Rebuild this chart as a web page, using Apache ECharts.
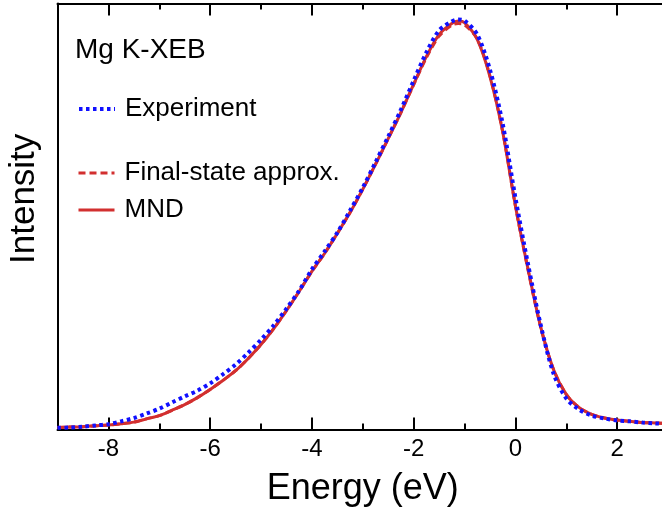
<!DOCTYPE html>
<html>
<head>
<meta charset="utf-8">
<script src="https://cdn.jsdelivr.net/npm/echarts@6/dist/echarts.min.js"></script>
<style>html,body{margin:0;padding:0;background:#fff}#c{width:662px;height:510px}</style>
</head>
<body>
<div id="c"></div>
<script>
const energies = [-9,-8.75,-8.5,-8.25,-8,-7.75,-7.5,-7.25,-7,-6.75,-6.5,-6.25,-6,-5.75,-5.5,-5.25,-5,-4.75,-4.5,-4.25,-4,-3.75,-3.5,-3.25,-3,-2.75,-2.5,-2.25,-2,-1.75,-1.5,-1.25,-1.125,-1,-0.75,-0.5,-0.25,0,0.25,0.5,0.75,1,1.25,1.5,1.75,2,2.25,2.5,2.75,3];
const experiment = [0.4,0.5,0.7,1.0,1.3,2.0,2.8,3.9,5.1,6.6,8.1,9.5,11.3,13.5,15.9,18.8,22.0,25.5,29.6,34.0,39.2,43.6,48.2,53.6,59.2,65.4,71.7,78.3,85.4,92.3,97.7,99.9,100.4,100.1,96.7,88.1,74.9,56.8,40.4,25.5,13.7,7.6,4.9,3.4,2.7,2.2,2.0,1.7,1.5,1.3];
const finalState = [0.5,0.6,0.7,0.9,1.1,1.4,1.8,2.6,3.4,4.7,6.1,7.8,9.8,12.0,14.4,17.4,20.8,24.7,29.1,33.8,38.7,43.1,48.0,53.1,58.8,64.9,71.2,77.6,84.4,91.0,96.3,99.0,99.4,99.1,95.6,86.6,73.0,54.8,39.0,24.9,14.7,8.6,5.4,3.7,2.8,2.3,2.0,1.7,1.6,1.5];
const mnd = [0.5,0.6,0.7,0.9,1.1,1.4,1.8,2.6,3.4,4.7,6.1,7.8,9.8,12.0,14.4,17.4,20.8,24.7,29.1,33.8,38.7,43.1,48.0,53.1,58.8,64.9,71.2,77.6,84.5,91.3,96.7,99.4,100.0,99.6,95.5,86.4,72.9,54.8,39.2,25.0,14.7,8.6,5.4,3.7,2.8,2.3,2.0,1.7,1.6,1.5];
const majorTicks = [-8,-6,-4,-2,0,2];
const minorTicks = [-7,-5,-3,-1,1];
const seriesNames = ['Experiment','Final-state approx.','MND'];

const FONT = 'Liberation Sans, Arial, Helvetica, sans-serif';
const pairs = arr => energies.map((e,i)=>[e, arr[i]]);
const chart = echarts.init(document.getElementById('c'), null, {renderer:'canvas'});
const xBase = {type:'value', min:-9, max:3, gridIndex:0, splitLine:{show:false}};
const axisLineStyle = {color:'#000', width:2};
const legendCommon = {orient:'vertical', itemWidth:36, itemHeight:14, selectedMode:false, padding:0,
  itemStyle:{opacity:0},
  textStyle:{color:'#000', fontSize:26, fontFamily:FONT, padding:[0,0,0,5]}};
chart.setOption({
  animation:false,
  backgroundColor:'#fff',
  grid:{left:57.5, right:-6, top:3.5, bottom:80.5, containLabel:false, outerBoundsMode:'none'},
  xAxis:[
    Object.assign({}, xBase, {position:'bottom', axisLine:{show:true, onZero:false, lineStyle:axisLineStyle},
      axisTick:{show:true, inside:true, length:12, customValues:majorTicks, lineStyle:{color:'#000', width:2}},
      axisLabel:{show:true, customValues:majorTicks, color:'#000', fontSize:24, fontFamily:FONT, margin:8},
      name:'Energy (eV)', nameLocation:'middle', nameGap:42, nameTextStyle:{color:'#000', fontSize:36, fontFamily:FONT}}),
    Object.assign({}, xBase, {position:'bottom', axisLine:{show:false, onZero:false},
      axisTick:{show:true, inside:true, length:6, customValues:minorTicks, lineStyle:{color:'#000', width:2}},
      axisLabel:{show:false}}),
    Object.assign({}, xBase, {position:'top', axisLine:{show:true, onZero:false, lineStyle:axisLineStyle},
      axisTick:{show:true, inside:true, length:12, customValues:majorTicks, lineStyle:{color:'#000', width:2}},
      axisLabel:{show:false}}),
    Object.assign({}, xBase, {position:'top', axisLine:{show:false, onZero:false},
      axisTick:{show:true, inside:true, length:6, customValues:minorTicks, lineStyle:{color:'#000', width:2}},
      axisLabel:{show:false}})
  ],
  yAxis:{type:'value', min:0, max:104.3, axisLine:{show:true, onZero:false, lineStyle:axisLineStyle},
    axisTick:{show:false}, axisLabel:{show:false}, splitLine:{show:false}},
  legend:[
    Object.assign({data:[seriesNames[0]], left:77, top:96, itemGap:12, lineStyle:{width:4}}, legendCommon),
    Object.assign({data:[seriesNames[1], seriesNames[2]], left:77, top:160, itemGap:11, lineStyle:{width:3}}, legendCommon)
  ],
  graphic:[
    {type:'text', left:75, top:36, style:{text:'Mg K-XEB', fill:'#000', font:'28px ' + FONT}},
    {type:'text', x:7, y:264, rotation:Math.PI/2, style:{text:'Intensity', fill:'#000', font:'35px ' + FONT}}
  ],
  series:[
    {name:seriesNames[2], type:'line', data:pairs(mnd), smooth:0.3, showSymbol:false, symbol:'none', z:2,
      lineStyle:{color:'#d22f2f', width:3}, itemStyle:{color:'#d22f2f'}},
    {name:seriesNames[1], type:'line', data:pairs(finalState), smooth:0.3, showSymbol:false, symbol:'none', z:3,
      lineStyle:{color:'#d22f2f', width:3, type:[7,4]}, itemStyle:{color:'#d22f2f'}},
    {name:seriesNames[0], type:'line', data:pairs(experiment), smooth:0.3, showSymbol:false, symbol:'none', z:4,
      lineStyle:{color:'#1010ff', width:4, type:[3.5,3.5], cap:'butt'}, itemStyle:{color:'#1010ff'}}
  ]
});
</script>
</body>
</html>
